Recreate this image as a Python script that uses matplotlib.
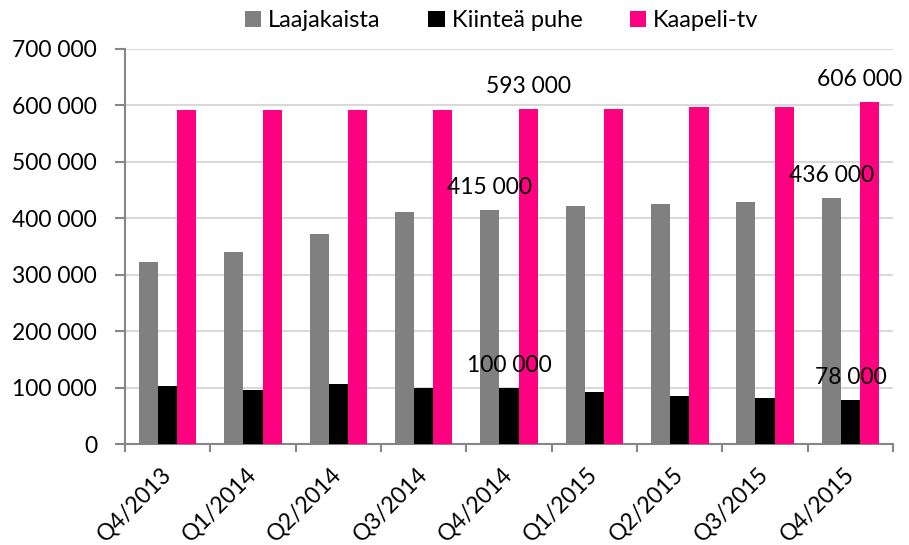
import numpy as np
import matplotlib
matplotlib.use("Agg")
import matplotlib.pyplot as plt
from matplotlib.ticker import FuncFormatter

plt.rcParams['font.family'] = ['Lato', 'DejaVu Sans']

# Data
neljannekset = ["Q4/2013", "Q1/2014", "Q2/2014", "Q3/2014", "Q4/2014",
                "Q1/2015", "Q2/2015", "Q3/2015", "Q4/2015"]
laajakaista = [322000, 340000, 372000, 411000, 415000, 421000, 425000, 428000, 436000]
kiintea_puhe = [103000, 96000, 106000, 100000, 100000, 92000, 85000, 81000, 78000]
kaapeli_tv = [591000, 591000, 591000, 591000, 593000, 593000, 597000, 597000, 606000]
sarjat = ["Laajakaista", "Kiinteä puhe", "Kaapeli-tv"]
varit = ["#808080", "#000000", "#FF0080"]
merkityt = [4, 8]  # indices that carry value labels

fig = plt.figure(figsize=(9.09, 5.45), dpi=100)
ax = fig.add_axes([0.1375, 0.1853, 0.845, 0.7257])

x = np.arange(len(neljannekset))
w = 0.225
arvot = [laajakaista, kiintea_puhe, kaapeli_tv]
for i, (nimi, vals, vari) in enumerate(zip(sarjat, arvot, varit)):
    pos = x + (i - 1) * w
    ax.bar(pos, vals, width=w, color=vari, label=nimi, zorder=3)
    for j in merkityt:
        # the last label is nudged left so it stays inside the figure
        dx = -7 if (i == 2 and j == len(neljannekset) - 1) else 0
        ax.annotate(f"{vals[j]:,}".replace(",", " "), (pos[j], vals[j]),
                    xytext=(dx, 11.5), textcoords="offset points",
                    ha="center", va="baseline", fontsize=16.5, zorder=4)

ax.set_xlim(-0.5, len(neljannekset) - 0.5)
ax.set_ylim(0, 700000)
ax.set_yticks(np.arange(0, 700001, 100000))
ax.yaxis.set_major_formatter(FuncFormatter(lambda v, p: f"{int(v):,}".replace(",", " ")))
ax.grid(axis="y", color="#d9d9d9", linewidth=1.5, zorder=0)

ax.set_xticks(np.arange(-0.5, len(neljannekset)), [""] * (len(neljannekset) + 1))
ax.set_xticks(x, neljannekset, minor=True)
ax.tick_params(axis="x", which="major", length=6, width=1.5, color="#868686", direction="out")
ax.tick_params(axis="x", which="minor", length=0, pad=19, labelsize=16.5)
for lab in ax.get_xticklabels(minor=True):
    lab.set_rotation(45)
    lab.set_ha("right")
    lab.set_va("center")
    lab.set_rotation_mode("anchor")
ax.tick_params(axis="y", length=7, width=1.5, color="#868686", pad=13, labelsize=16.5)

for s in ["top", "right"]:
    ax.spines[s].set_visible(False)
for s in ["left", "bottom"]:
    ax.spines[s].set_color("#868686")
    ax.spines[s].set_linewidth(1.5)

fig.legend(loc="center", bbox_to_anchor=(0.552, 0.962), ncol=3, frameon=False,
           fontsize=17, handlelength=0.7, handleheight=0.7, handletextpad=0.3,
           columnspacing=2.0)

fig.savefig("out.png", dpi=100)
